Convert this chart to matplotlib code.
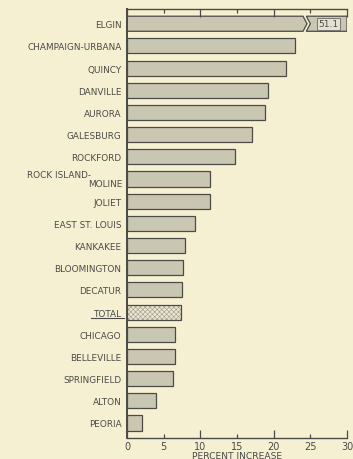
import matplotlib
matplotlib.use("Agg")
import matplotlib.pyplot as plt
from matplotlib.patches import Polygon
from matplotlib.ticker import FixedLocator

cities = ["ELGIN", "CHAMPAIGN-URBANA", "QUINCY", "DANVILLE", "AURORA",
          "GALESBURG", "ROCKFORD", "ROCK ISLAND-\nMOLINE", "JOLIET",
          "EAST ST. LOUIS", "KANKAKEE", "BLOOMINGTON", "DECATUR", "TOTAL",
          "CHICAGO", "BELLEVILLE", "SPRINGFIELD", "ALTON", "PEORIA"]
increase = [51.1, 22.9, 21.7, 19.2, 18.8, 17.1, 14.7, 11.3, 11.3,
            9.2, 7.9, 7.6, 7.5, 7.4, 6.6, 6.6, 6.25, 4.0, 2.0]
x_ticks = [0, 5, 10, 15, 20, 25, 30]
x_max = 30
break_at = 24.0          # where an off-scale bar is broken

bg = "#f6f0d3"
bar_fill = "#c9c6b1"
edge = "#4a4a46"
text_col = "#4a4a46"

plt.rcParams["hatch.linewidth"] = 0.4

fig = plt.figure(figsize=(3.53, 4.60), dpi=100, facecolor=bg)
ax = fig.add_axes([0.360, 0.045, 0.623, 0.934], facecolor=bg)

h = 0.68
n = len(cities)
for i, (name, v) in enumerate(zip(cities, increase)):
    if name == "TOTAL":
        # light dotted fill, then the outline on top
        ax.barh(i, v, height=h, color="#ece7d0", edgecolor="#9a978c",
                linewidth=0, hatch="xxxxxxx")
        ax.barh(i, v, height=h, color="none", edgecolor=edge, linewidth=0.9)
    elif v > x_max:
        # broken bar: pointed left piece, notched right piece
        y0, y1 = i - h / 2, i + h / 2
        tip = 0.55
        gap = 0.45
        left = Polygon([(0, y0), (break_at, y0), (break_at + tip, i),
                        (break_at, y1), (0, y1)], closed=True,
                       facecolor=bar_fill, edgecolor=edge, linewidth=0.9)
        right = Polygon([(break_at + gap, y0), (x_max, y0), (x_max, y1),
                         (break_at + gap, y1), (break_at + gap + tip, i)],
                        closed=True, facecolor=bar_fill, edgecolor=edge,
                        linewidth=0.9)
        ax.add_patch(left)
        ax.add_patch(right)
        ax.text((break_at + gap + tip + x_max) / 2, i, f"{v:.1f}",
                ha="center", va="center", fontsize=6.5, color=text_col,
                bbox=dict(boxstyle="square,pad=0.15", fc="#e4e1d2",
                          ec="#6a6a66", lw=0.6))
    else:
        ax.barh(i, v, height=h, color=bar_fill, edgecolor=edge,
                linewidth=0.9)

ax.set_xlim(0, x_max)
ax.set_ylim(n - 1 + 0.69, -0.68)

# category labels
ax.set_yticks(range(n))
ax.set_yticklabels(["" if "\n" in c else c for c in cities],
                   fontsize=6.4, color=text_col)
ax.tick_params(axis="y", length=0, pad=4)
for i, c in enumerate(cities):
    if "\n" in c:
        first, second = c.split("\n")
        ax.annotate(first, xy=(0, i), xycoords=("axes fraction", "data"),
                    xytext=(-26, 3.5), textcoords="offset points",
                    ha="right", va="center", fontsize=6.4, color=text_col)
        ax.annotate(second, xy=(0, i), xycoords=("axes fraction", "data"),
                    xytext=(-3, -3.5), textcoords="offset points",
                    ha="right", va="center", fontsize=6.4, color=text_col)
    if c == "TOTAL":
        ax.plot([-0.165, -0.015], [i + 0.28, i + 0.28], color=text_col,
                lw=0.8, transform=ax.get_yaxis_transform(), clip_on=False)

# x axis: labelled ticks every 5, longer marks at 10s
ax.xaxis.set_major_locator(FixedLocator([t for t in x_ticks if t % 10 == 0]))
ax.xaxis.set_minor_locator(FixedLocator([t for t in x_ticks if t % 10 != 0]))
ax.set_xticklabels([str(t) for t in x_ticks if t % 10 == 0])
ax.set_xticklabels([str(t) for t in x_ticks if t % 10 != 0], minor=True)
ax.tick_params(axis="x", which="major", direction="in", length=6, width=0.9,
               color=edge, labelsize=7, labelcolor=text_col, pad=2,
               top=True)
ax.tick_params(axis="x", which="minor", direction="in", length=3, width=0.9,
               color=edge, labelsize=7, labelcolor=text_col, pad=2,
               top=True)
ax.set_xlabel("PERCENT INCREASE", fontsize=6.6, color=text_col, labelpad=0)

for side in ("left", "bottom", "top"):
    ax.spines[side].set_color(edge)
    ax.spines[side].set_linewidth(1.0)
ax.spines["left"].set_linewidth(1.4)
ax.spines["right"].set_visible(False)

fig.savefig("out.png", dpi=100, facecolor=bg)
